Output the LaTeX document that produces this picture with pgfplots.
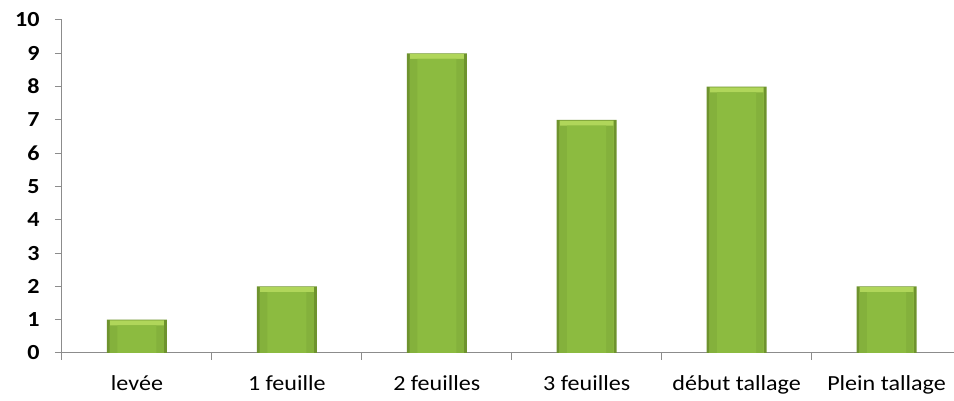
\documentclass[border=0pt]{standalone}
\usepackage{fontspec}
\setmainfont[FakeStretch=1.12]{Carlito}
\usepackage{pgfplots}
\pgfplotsset{compat=1.18}
\definecolor{barEdge}{HTML}{6E932E}
\definecolor{barTop}{HTML}{B0D65A}
\definecolor{barMain}{HTML}{84B13C}
\definecolor{barMid}{HTML}{8CBB40}
\definecolor{axgray}{HTML}{8C8C8C}
\begin{document}
\begin{tikzpicture}
\begin{axis}[
    scale only axis,
    width=892pt, height=333pt,
    xmin=-0.5, xmax=5.45,
    ymin=0, ymax=10,
    axis lines*=left,
    axis line style={axgray, line width=1pt},
    every tick/.style={axgray, line width=1pt},
    tick align=outside,
    xtick={0,1,2,3,4,5},
    xticklabels={levée, 1 feuille, 2 feuilles, 3 feuilles, début tallage, Plein tallage},
    major x tick style={draw=none},
    minor xtick={-0.5,0.5,1.5,2.5,3.5,4.5},
    minor tick length=7pt,
    major tick length=7pt,
    ytick={0,1,...,10},
    /pgf/number format/assume math mode=true,
    tick label style={font=\fontsize{21.5}{24}\selectfont},
    y tick label style={font=\fontsize{21.5}{24}\selectfont\bfseries, xshift=-12pt},
    x tick label style={yshift=-12pt},
    ybar, bar shift=0pt,
    every axis plot/.append style={draw=none},
]
% edge of each bar
\addplot[fill=barEdge, bar width=0.40]
    coordinates {(0,1) (1,2) (2,9) (3,7) (4,8) (5,2)};
% light bevel at the top
\addplot[fill=barTop, bar width=0.36]
    coordinates {(0,0.98) (1,1.98) (2,8.98) (3,6.98) (4,7.98) (5,1.98)};
% body
\addplot[fill=barMain, bar width=0.36]
    coordinates {(0,0.83) (1,1.83) (2,8.83) (3,6.83) (4,7.83) (5,1.83)};
\addplot[fill=barMid, bar width=0.26]
    coordinates {(0,0.83) (1,1.83) (2,8.83) (3,6.83) (4,7.83) (5,1.83)};
\end{axis}
\pgfresetboundingbox
\path[use as bounding box] (current axis.south west) ++(-62pt,-48pt) rectangle ([yshift=20pt]current axis.north east);
\end{tikzpicture}
\end{document}
